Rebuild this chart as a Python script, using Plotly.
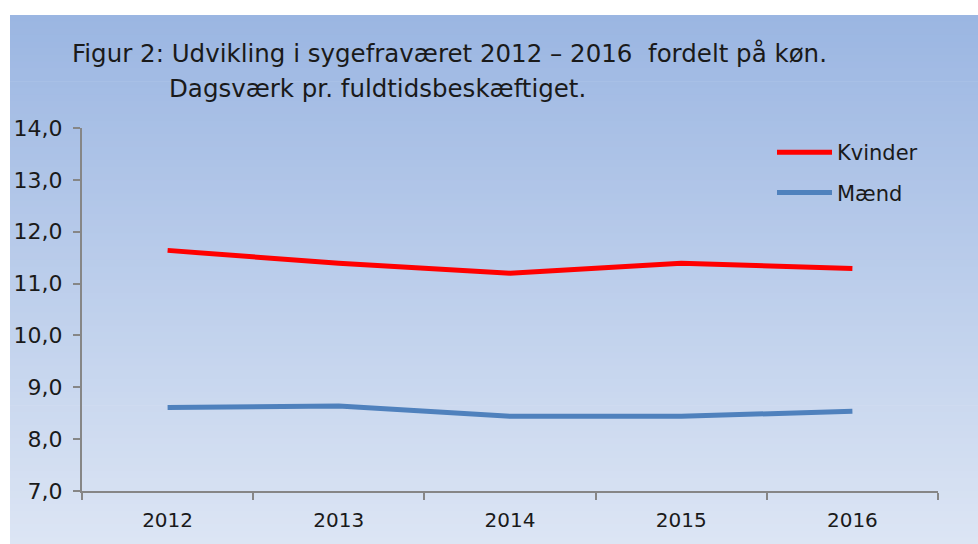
import plotly.graph_objects as go

years = ["2012", "2013", "2014", "2015", "2016"]
kvinder = [11.64, 11.39, 11.20, 11.39, 11.29]
maend = [8.61, 8.64, 8.44, 8.44, 8.54]
y_ticks = [7, 8, 9, 10, 11, 12, 13, 14]

W, H = 978, 544
ML, MR, MT, MB = 82, 40, 128, 53
PW, PH = W - ML - MR, H - MT - MB

fig = go.Figure()
fig.add_trace(go.Scatter(x=years, y=kvinder, mode="lines", name="Kvinder",
                         line=dict(color="#ff0000", width=5), legendgroup="a"))
fig.add_trace(go.Scatter(x=years, y=maend, mode="lines", name="Mænd",
                         line=dict(color="#4f81bd", width=5), legendgroup="b"))

# gradient background via horizontal bands (paper coordinates)
top_c = (155, 182, 226)
bot_c = (220, 229, 244)
x0p = (10 - ML) / PW
x1p = (W - ML) / PW
ytop = 1 + (MT - 15) / PH
ybot = -MB / PH
n = 80
shapes = []
for i in range(n):
    t = i / (n - 1)
    c = tuple(round(top_c[k] + (bot_c[k] - top_c[k]) * t) for k in range(3))
    ya = ytop - (ytop - ybot) * i / n
    yb = ytop - (ytop - ybot) * (i + 1) / n
    shapes.append(dict(type="rect", xref="paper", yref="paper", x0=x0p, x1=x1p,
                       y0=yb - 0.002, y1=ya, fillcolor="rgb(%d,%d,%d)" % c,
                       line=dict(width=0), layer="below"))

font_family = "'DejaVu Sans', sans-serif"
fig.update_layout(
    width=W, height=H,
    margin=dict(l=ML, r=MR, t=MT, b=MB),
    paper_bgcolor="white",
    plot_bgcolor="rgba(0,0,0,0)",
    separators=",.",
    shapes=shapes,
    font=dict(family=font_family, color="#1a1a1a"),
    showlegend=True,
    legend=dict(x=(772 - ML) / PW, y=1 - (132 - MT) / PH, xanchor="left", yanchor="top",
                bgcolor="rgba(0,0,0,0)", font=dict(size=21, color="#1a1a1a"),
                itemwidth=55, tracegroupgap=10),
    xaxis=dict(type="category", range=[-0.5, 4.5], showgrid=False, zeroline=False,
               showline=True, linecolor="#868686", linewidth=2,
               ticks="outside", tickson="boundaries", ticklen=7, tickcolor="#868686",
               tickwidth=1.5, ticklabelstandoff=10,
               tickfont=dict(size=20, color="#1a1a1a")),
    yaxis=dict(range=[7, 14], tickvals=y_ticks, tickformat=".1f", showgrid=False,
               zeroline=False, showline=True, linecolor="#868686", linewidth=2,
               ticks="outside", ticklen=7, tickcolor="#868686", tickwidth=1.5,
               ticklabelstandoff=6,
               tickfont=dict(size=22, color="#1a1a1a")),
    annotations=[
        dict(text="Figur 2: Udvikling i sygefraværet 2012 – 2016  fordelt på køn.",
             xref="paper", yref="paper", x=(70 - ML) / PW, y=1 + (MT - 54) / PH,
             xanchor="left", yanchor="middle", showarrow=False,
             font=dict(size=24.5, color="#1a1a1a")),
        dict(text="Dagsværk pr. fuldtidsbeskæftiget.",
             xref="paper", yref="paper", x=(167 - ML) / PW, y=1 + (MT - 89) / PH,
             xanchor="left", yanchor="middle", showarrow=False,
             font=dict(size=24.5, color="#1a1a1a")),
    ],
)

fig.write_html("out.html", config={"displayModeBar": False},
               post_script="document.body.style.margin='0px';")
